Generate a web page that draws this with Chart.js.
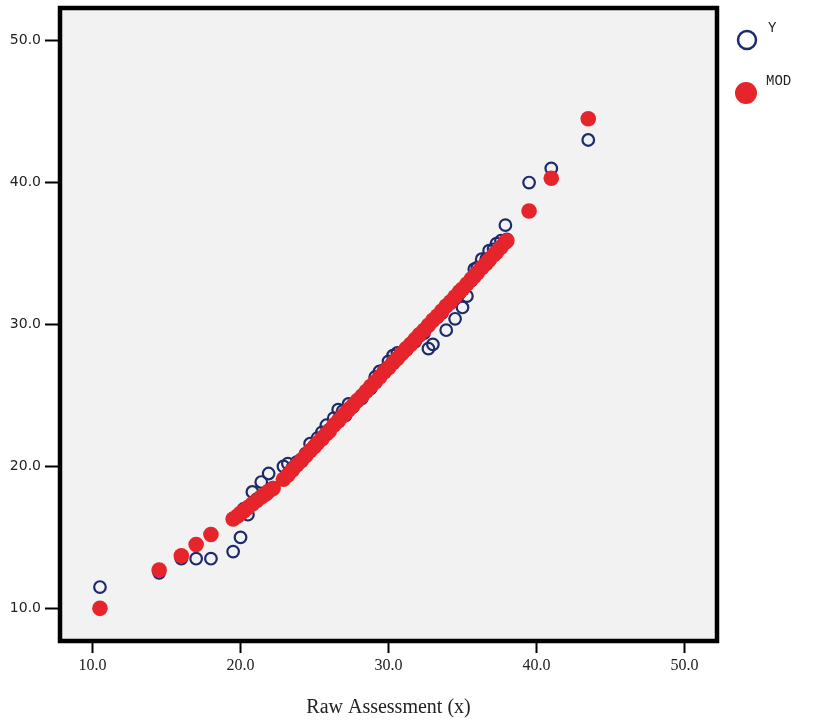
<!DOCTYPE html>
<html>
<head>
<meta charset="utf-8">
<script src="https://cdn.jsdelivr.net/npm/chart.js@4"></script>
<style>
  html, body { margin: 0; padding: 0; background: #ffffff; }
  #wrap { width: 813px; height: 725px; position: relative; }
</style>
</head>
<body>
<div id="wrap"><canvas id="c" width="813" height="725"></canvas></div>
<script>
// ---- data ----
const xValues = [10.5, 14.5, 16.0, 17.0, 18.0, 19.5, 19.8, 20.0, 20.2, 20.5, 20.8, 21.1, 21.4, 21.7, 21.9, 22.2,
  22.9, 23.2, 23.5, 23.8, 24.1, 24.4, 24.7, 25.0, 25.2, 25.5, 25.8, 26.0, 26.3, 26.6, 26.9, 27.1, 27.3, 27.6, 27.9,
  28.2, 28.5, 28.8, 29.1, 29.4, 29.7, 30.0, 30.3, 30.6, 30.9, 31.2, 31.5, 31.8, 32.1, 32.4, 32.7, 33.0, 33.3, 33.6,
  33.9, 34.2, 34.5, 34.8, 35.0, 35.3, 35.6, 35.8, 36.0, 36.3, 36.6, 36.8, 37.1, 37.3, 37.6, 37.9, 38.0, 39.5, 41.0, 43.5];

const yObserved = [11.5, 12.5, 13.5, 13.5, 13.5, 14.0, 16.5, 15.0, 17.0, 16.6, 18.2, 17.7, 18.9, 18.1, 19.5, 18.5,
  20.0, 20.2, 19.9, 20.3, 20.5, 20.9, 21.6, 21.4, 22.0, 22.4, 22.9, 22.6, 23.4, 24.0, 23.9, 23.6, 24.4, 24.2, 24.6,
  24.8, 25.3, 25.5, 26.3, 26.7, 26.8, 27.4, 27.8, 28.0, 28.0, 28.2, 28.6, 28.8, 29.2, 29.4, 28.3, 28.6, 30.5, 30.8,
  29.6, 31.5, 30.4, 32.2, 31.2, 32.0, 33.1, 33.9, 34.0, 34.6, 34.6, 35.2, 35.3, 35.7, 35.9, 37.0, 36.0, 40.0, 41.0, 43.0];

const yModel = [10.0, 12.7, 13.7, 14.5, 15.2, 16.3, 16.5, 16.7, 16.85, 17.1, 17.35, 17.6, 17.85, 18.05, 18.25, 18.45,
  19.1, 19.4, 19.75, 20.1, 20.4, 20.75, 21.1, 21.4, 21.65, 21.95, 22.3, 22.5, 22.9, 23.2, 23.55, 23.75, 24.0, 24.3, 24.65,
  24.95, 25.3, 25.65, 25.95, 26.3, 26.65, 26.95, 27.3, 27.6, 27.95, 28.3, 28.6, 28.95, 29.3, 29.6, 29.95, 30.3, 30.6, 30.95,
  31.3, 31.6, 31.95, 32.3, 32.5, 32.85, 33.2, 33.4, 33.65, 34.0, 34.3, 34.55, 34.9, 35.1, 35.45, 35.8, 35.9, 38.0, 40.3, 44.5];

const xTickValues = [10, 20, 30, 40, 50];
const yTickValues = [10, 20, 30, 40, 50];
const seriesNames = ['Y', 'MOD'];
const xAxisTitle = 'Raw Assessment (x)';

// ---- styling ----
const NAVY = '#1d2a6c';
const RED = '#e5242b';

const plotBg = {
  id: 'plotBg',
  beforeDraw(chart) {
    const { ctx, chartArea: a } = chart;
    ctx.save();
    ctx.fillStyle = '#f2f2f2';
    ctx.fillRect(a.left, a.top, a.right - a.left, a.bottom - a.top);
    ctx.restore();
  }
};

const frame = {
  id: 'frame',
  afterDraw(chart) {
    const { ctx, chartArea: a } = chart;
    ctx.save();
    ctx.strokeStyle = '#000';
    ctx.lineWidth = 4.5;
    ctx.strokeRect(a.left, a.top, a.right - a.left, a.bottom - a.top);
    ctx.restore();
  }
};

const sideLegend = {
  id: 'sideLegend',
  afterDraw(chart) {
    const ctx = chart.ctx;
    const ds = chart.data.datasets;
    ctx.save();
    // Y
    ctx.beginPath();
    ctx.arc(747, 40, 9, 0, Math.PI * 2);
    ctx.lineWidth = 2.5;
    ctx.strokeStyle = ds[0].borderColor;
    ctx.stroke();
    // MOD
    ctx.beginPath();
    ctx.arc(746, 93, 11, 0, Math.PI * 2);
    ctx.fillStyle = ds[1].backgroundColor;
    ctx.fill();
    ctx.fillStyle = '#222';
    ctx.font = '14px "Liberation Mono", monospace';
    ctx.textAlign = 'left';
    ctx.textBaseline = 'middle';
    ctx.fillText(ds[0].label, 768, 28);
    ctx.fillText(ds[1].label, 766, 81);
    ctx.restore();
  }
};

const chart = new Chart(document.getElementById('c'), {
  type: 'scatter',
  data: {
    datasets: [
      {
        label: seriesNames[0],
        order: 2,
        data: xValues.map((x, i) => ({ x: x, y: yObserved[i] })),
        pointRadius: 5.8,
        pointBorderWidth: 2.2,
        borderColor: NAVY,
        backgroundColor: 'rgba(0,0,0,0)',
        pointHoverRadius: 5.8
      },
      {
        label: seriesNames[1],
        order: 1,
        data: xValues.map((x, i) => ({ x: x, y: yModel[i] })),
        pointRadius: 7.8,
        pointBorderWidth: 0,
        borderColor: RED,
        backgroundColor: RED,
        pointHoverRadius: 7.8
      }
    ]
  },
  options: {
    responsive: false,
    animation: false,
    devicePixelRatio: 1,
    layout: { padding: { left: 0, right: 96, top: 7.5, bottom: 0 } },
    plugins: { legend: { display: false }, tooltip: { enabled: false } },
    scales: {
      x: {
        type: 'linear',
        min: 7.8, max: 52.2,
        afterBuildTicks(s) { s.ticks = xTickValues.map(v => ({ value: v })); },
        afterFit(s) { s.height = 84; s.paddingLeft = 0; s.paddingRight = 0; },
        grid: { display: true, drawOnChartArea: false, drawTicks: true, tickLength: 12, tickWidth: 2, tickColor: '#000' },
        border: { display: false },
        ticks: {
          padding: 3,
          color: '#222',
          font: { family: '"Liberation Serif", serif', size: 16 },
          callback: v => v.toFixed(1),
          maxRotation: 0
        },
        title: {
          display: true,
          text: xAxisTitle,
          color: '#222',
          font: { family: '"Liberation Serif", serif', size: 20 },
          padding: { top: 0, bottom: 5 }
        }
      },
      y: {
        type: 'linear',
        min: 7.7, max: 52.3,
        afterBuildTicks(s) { s.ticks = yTickValues.map(v => ({ value: v })); },
        afterFit(s) { s.width = 60; s.paddingTop = 0; s.paddingBottom = 0; },
        grid: { display: true, drawOnChartArea: false, drawTicks: true, tickLength: 15, tickWidth: 2, tickColor: '#000' },
        border: { display: false },
        ticks: {
          padding: 4,
          color: '#222',
          font: { family: '"DejaVu Sans", sans-serif', size: 14 },
          callback: v => v.toFixed(1)
        }
      }
    }
  },
  plugins: [plotBg, frame, sideLegend]
});
</script>
</body>
</html>
